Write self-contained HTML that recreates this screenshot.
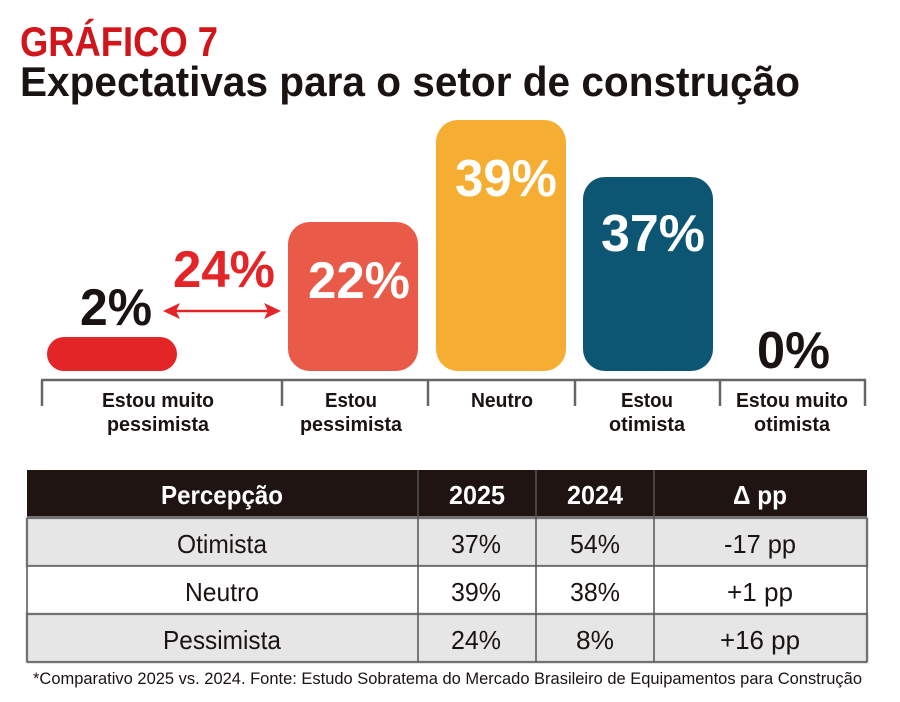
<!DOCTYPE html>
<html><head><meta charset="utf-8"><style>
html,body{margin:0;padding:0;background:#fff;width:900px;height:702px;overflow:hidden}
svg{display:block}
text{font-family:"Liberation Sans",sans-serif}
.b{font-weight:bold}
</style></head><body>
<svg width="900" height="702" viewBox="0 0 900 702">
<text x="20" y="56" class="b" font-size="42" fill="#d0161b" textLength="198" lengthAdjust="spacingAndGlyphs">GRÁFICO 7</text>
<text x="20" y="96" class="b" font-size="42" fill="#1a1311" textLength="780" lengthAdjust="spacingAndGlyphs">Expectativas para o setor de construção</text>

<rect x="47" y="337" width="130" height="34" rx="17" fill="#e42528"/>
<rect x="288" y="222" width="130" height="149" rx="22" fill="#e95a49"/>
<rect x="436" y="120" width="130" height="251" rx="22" fill="#f5ad32"/>
<rect x="583" y="177" width="130" height="194" rx="22" fill="#0d5673"/>

<text x="80" y="325" class="b" font-size="52" fill="#1a1311" textLength="72" lengthAdjust="spacingAndGlyphs">2%</text>
<text x="173" y="287" class="b" font-size="52" fill="#e42528" textLength="102" lengthAdjust="spacingAndGlyphs">24%</text>
<text x="308" y="298" class="b" font-size="52" fill="#fff" textLength="102" lengthAdjust="spacingAndGlyphs">22%</text>
<text x="455" y="196" class="b" font-size="52" fill="#fff" textLength="102" lengthAdjust="spacingAndGlyphs">39%</text>
<text x="601" y="251" class="b" font-size="52" fill="#fff" textLength="104" lengthAdjust="spacingAndGlyphs">37%</text>
<text x="757" y="368" class="b" font-size="52" fill="#1a1311" textLength="73" lengthAdjust="spacingAndGlyphs">0%</text>

<line x1="172" y1="311" x2="272" y2="311" stroke="#e42528" stroke-width="2.5"/>
<polygon points="163,311 180,303 176,311 180,319" fill="#e42528"/>
<polygon points="281,311 264,303 268,311 264,319" fill="#e42528"/>

<g stroke="#666" stroke-width="2.5" fill="none">
<line x1="41" y1="380" x2="866" y2="380"/>
<line x1="42" y1="380" x2="42" y2="406"/>
<line x1="282" y1="380" x2="282" y2="406"/>
<line x1="428" y1="380" x2="428" y2="406"/>
<line x1="575" y1="380" x2="575" y2="406"/>
<line x1="720" y1="380" x2="720" y2="406"/>
<line x1="865" y1="380" x2="865" y2="406"/>
</g>
<g class="b" font-size="20" fill="#1a1311" text-anchor="middle">
<text x="158" y="407" textLength="112" lengthAdjust="spacingAndGlyphs">Estou muito</text>
<text x="158" y="431" textLength="102" lengthAdjust="spacingAndGlyphs">pessimista</text>
<text x="351" y="407" textLength="52" lengthAdjust="spacingAndGlyphs">Estou</text>
<text x="351" y="431" textLength="102" lengthAdjust="spacingAndGlyphs">pessimista</text>
<text x="502" y="407" textLength="62" lengthAdjust="spacingAndGlyphs">Neutro</text>
<text x="647" y="407" textLength="52" lengthAdjust="spacingAndGlyphs">Estou</text>
<text x="647" y="431" textLength="76" lengthAdjust="spacingAndGlyphs">otimista</text>
<text x="792" y="407" textLength="112" lengthAdjust="spacingAndGlyphs">Estou muito</text>
<text x="792" y="431" textLength="76" lengthAdjust="spacingAndGlyphs">otimista</text>
</g>

<rect x="27" y="470" width="840" height="48" fill="#1f1412"/>
<rect x="27" y="518" width="840" height="48" fill="#e6e6e6" stroke="#c8c8c8" stroke-width="3"/>
<rect x="27" y="566" width="840" height="48" fill="#fff"/>
<rect x="27" y="614" width="840" height="48" fill="#e6e6e6" stroke="#c8c8c8" stroke-width="3"/>
<g stroke="#555" stroke-width="1.5">
<line x1="27" y1="518" x2="867" y2="518"/>
<line x1="27" y1="566" x2="867" y2="566"/>
<line x1="27" y1="614" x2="867" y2="614"/>
<line x1="27" y1="662" x2="867" y2="662"/>
<line x1="27" y1="518" x2="27" y2="662"/>
<line x1="867" y1="518" x2="867" y2="662"/>
<line x1="418" y1="470" x2="418" y2="662"/>
<line x1="536" y1="470" x2="536" y2="662"/>
<line x1="654" y1="470" x2="654" y2="662"/>
</g>
<g class="b" font-size="26" fill="#fff" text-anchor="middle">
<text x="222" y="504" textLength="122" lengthAdjust="spacingAndGlyphs">Percepção</text>
<text x="477" y="504" textLength="56" lengthAdjust="spacingAndGlyphs">2025</text>
<text x="595" y="504" textLength="56" lengthAdjust="spacingAndGlyphs">2024</text>
<text x="760" y="504" textLength="54" lengthAdjust="spacingAndGlyphs">Δ pp</text>
</g>
<g font-size="26" fill="#1a1311" text-anchor="middle">
<text x="222" y="553" textLength="90" lengthAdjust="spacingAndGlyphs">Otimista</text>
<text x="476" y="553" textLength="50" lengthAdjust="spacingAndGlyphs">37%</text>
<text x="595" y="553" textLength="50" lengthAdjust="spacingAndGlyphs">54%</text>
<text x="760" y="553" textLength="72" lengthAdjust="spacingAndGlyphs">-17 pp</text>
<text x="222" y="601" textLength="74" lengthAdjust="spacingAndGlyphs">Neutro</text>
<text x="476" y="601" textLength="50" lengthAdjust="spacingAndGlyphs">39%</text>
<text x="595" y="601" textLength="50" lengthAdjust="spacingAndGlyphs">38%</text>
<text x="760" y="601" textLength="66" lengthAdjust="spacingAndGlyphs">+1 pp</text>
<text x="222" y="649" textLength="118" lengthAdjust="spacingAndGlyphs">Pessimista</text>
<text x="476" y="649" textLength="50" lengthAdjust="spacingAndGlyphs">24%</text>
<text x="595" y="649" textLength="38" lengthAdjust="spacingAndGlyphs">8%</text>
<text x="760" y="649" textLength="80" lengthAdjust="spacingAndGlyphs">+16 pp</text>
</g>
<text x="33" y="684" font-size="17" fill="#1a1311" textLength="829" lengthAdjust="spacingAndGlyphs">*Comparativo 2025 vs. 2024. Fonte: Estudo Sobratema do Mercado Brasileiro de Equipamentos para Construção</text>
</svg>
</body></html>
